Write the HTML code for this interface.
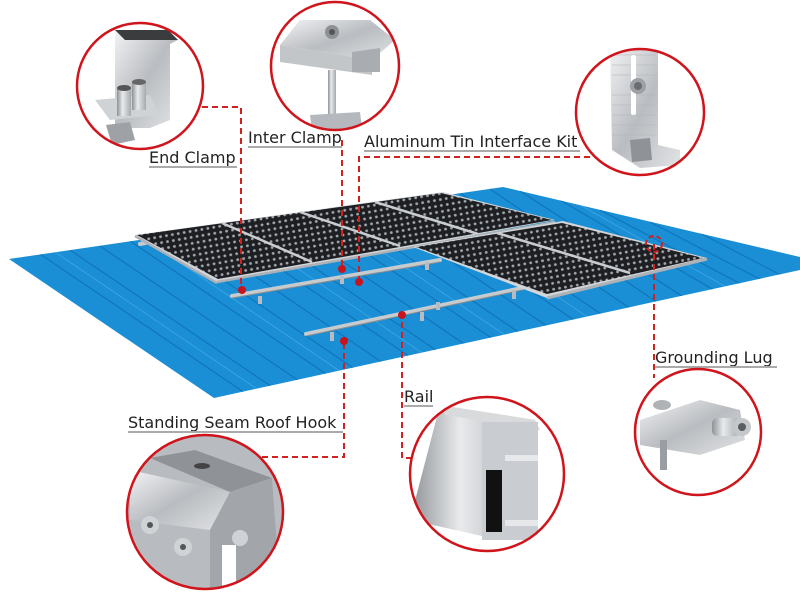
<!DOCTYPE html>
<html><head><meta charset="utf-8"><style>
html,body{margin:0;padding:0;background:#fff;width:800px;height:593px;overflow:hidden}
svg{display:block}
text{font-family:"DejaVu Sans","Liberation Sans",sans-serif;font-size:16px;fill:#222}
</style></head><body>
<svg width="800" height="593" viewBox="0 0 800 593" xmlns="http://www.w3.org/2000/svg">
<defs>
<pattern id="cells" width="6" height="6" patternUnits="userSpaceOnUse" patternTransform="rotate(-10)">
<rect width="6" height="6" fill="#1d1f22"/>
<circle cx="3" cy="3" r="1.4" fill="#a4a8ae"/>
</pattern>
<linearGradient id="metal" x1="0" y1="0" x2="1" y2="1">
<stop offset="0" stop-color="#f2f3f5"/><stop offset="0.5" stop-color="#b9bcc0"/><stop offset="1" stop-color="#e2e4e6"/>
</linearGradient>
<linearGradient id="metal2" x1="0" y1="0" x2="1" y2="0">
<stop offset="0" stop-color="#8e9296"/><stop offset="0.4" stop-color="#e8eaec"/><stop offset="1" stop-color="#a5a9ad"/>
</linearGradient>
<clipPath id="roofclip"><polygon points="9,259 503,187 800,257 800,270 214,398"/></clipPath>
</defs>

<polygon points="9,259 503,187 800,257 800,270 214,398" fill="#1a8fd6"/>
<g clip-path="url(#roofclip)" stroke="#0f6fb3" stroke-width="1.2" opacity="0.8">
<line x1="40" y1="254" x2="245" y2="393"/><line x1="70" y1="250" x2="275" y2="389"/>
<line x1="100" y1="246" x2="305" y2="385"/><line x1="130" y1="241" x2="335" y2="380"/>
<line x1="160" y1="237" x2="365" y2="376"/><line x1="190" y1="232" x2="395" y2="371"/>
<line x1="220" y1="228" x2="425" y2="367"/><line x1="250" y1="224" x2="455" y2="363"/>
<line x1="280" y1="219" x2="485" y2="358"/><line x1="310" y1="215" x2="515" y2="354"/>
<line x1="340" y1="211" x2="545" y2="350"/><line x1="370" y1="206" x2="575" y2="345"/>
<line x1="400" y1="202" x2="605" y2="341"/><line x1="430" y1="198" x2="635" y2="337"/>
<line x1="460" y1="193" x2="665" y2="332"/><line x1="490" y1="189" x2="695" y2="328"/>
<line x1="520" y1="191" x2="725" y2="324"/><line x1="560" y1="200" x2="765" y2="320"/>
<line x1="600" y1="210" x2="800" y2="315"/><line x1="650" y1="222" x2="800" y2="300"/>
<line x1="700" y1="233" x2="800" y2="285"/>
</g>
<g clip-path="url(#roofclip)" stroke="#5ab8ee" stroke-width="0.8" opacity="0.6">
<line x1="55" y1="252" x2="260" y2="391"/><line x1="145" y1="239" x2="350" y2="378"/>
<line x1="235" y1="226" x2="440" y2="365"/><line x1="325" y1="213" x2="530" y2="352"/>
<line x1="415" y1="200" x2="620" y2="339"/><line x1="580" y1="205" x2="785" y2="320"/>
</g>

<g stroke="#c8cbce" stroke-width="4" stroke-linecap="round">
<line x1="232" y1="296" x2="440" y2="260"/>
<line x1="306" y1="334" x2="522" y2="288"/>
<line x1="140" y1="244" x2="160" y2="240"/>
</g>
<g stroke="#8a8e92" stroke-width="1"><line x1="232" y1="298" x2="440" y2="262"/><line x1="306" y1="336" x2="522" y2="290"/></g>
<g fill="#b8bcc0">
<rect x="258" y="296" width="4" height="8"/><rect x="340" y="276" width="4" height="8"/>
<rect x="425" y="262" width="4" height="8"/><rect x="330" y="332" width="4" height="9"/>
<rect x="420" y="312" width="4" height="9"/><rect x="512" y="290" width="4" height="9"/>
<rect x="436" y="302" width="4" height="8"/>
</g>

<polygon points="135,235 443,192 555,220 217,283" fill="#d3d6d9"/>
<polygon points="137,235 441,193 552,220 218,279" fill="url(#cells)"/>
<g stroke="#c9ccd0" stroke-width="2.5">
<line x1="222" y1="223" x2="312" y2="262"/>
<line x1="300" y1="212" x2="400" y2="246"/>
<line x1="375" y1="202" x2="478" y2="234"/>
</g>
<line x1="217" y1="282" x2="555" y2="222" stroke="#aeb2b6" stroke-width="2.5"/>
<line x1="135" y1="236" x2="217" y2="283" stroke="#aeb2b6" stroke-width="2.5"/>

<polygon points="413,247 563,221 707,258 547,298" fill="#d3d6d9"/>
<polygon points="416,247 562,223 703,258 547,294" fill="url(#cells)"/>
<line x1="497" y1="233" x2="630" y2="273" stroke="#c9ccd0" stroke-width="2.5"/>
<line x1="547" y1="298" x2="707" y2="259" stroke="#aeb2b6" stroke-width="3"/>

<g stroke="#d41f1f" stroke-width="2" stroke-dasharray="6,4" fill="none">
<polyline points="202,107 241,107 241,290"/>
<line x1="342" y1="140" x2="342" y2="269"/>
<polyline points="590,157 359,157 359,282"/>
<polyline points="262,457 344,457 344,341"/>
<polyline points="412,458 402,458 402,315"/>
<line x1="654" y1="244" x2="654" y2="378"/>
<circle cx="654" cy="244" r="8" stroke-dasharray="5,3"/>
</g>
<g fill="#c8141c">
<circle cx="242" cy="290" r="4"/><circle cx="342" cy="269" r="4"/><circle cx="359" cy="282" r="4"/>
<circle cx="402" cy="315" r="4"/><circle cx="344" cy="341" r="4"/>
</g>

<g>
<text x="149" y="163">End Clamp</text><rect x="149" y="166" width="88" height="2" fill="#aaa"/>
<text x="248" y="143">Inter Clamp</text><rect x="248" y="146" width="94" height="2" fill="#aaa"/>
<text x="364" y="147">Aluminum Tin Interface Kit</text><rect x="364" y="150" width="216" height="2" fill="#aaa"/>
<text x="655" y="363">Grounding Lug</text><rect x="655" y="366" width="122" height="2" fill="#aaa"/>
<text x="404" y="402">Rail</text><rect x="404" y="405" width="29" height="2" fill="#aaa"/>
<text x="128" y="428">Standing Seam Roof Hook</text><rect x="128" y="431" width="215" height="2" fill="#aaa"/>
</g>

<g>
<clipPath id="c1"><ellipse cx="140" cy="86" rx="63" ry="63"/></clipPath>
<g clip-path="url(#c1)">
<polygon points="115,30 168,30 178,40 170,44 170,120 150,128 115,128" fill="url(#metal)"/>
<polygon points="115,30 168,30 178,40 125,40" fill="#3a3c3e"/>
<polygon points="95,100 150,95 160,115 110,120" fill="#d0d3d6"/>
<rect x="117" y="88" width="14" height="28" fill="url(#metal2)"/><ellipse cx="124" cy="88" rx="7" ry="3" fill="#555"/>
<rect x="132" y="82" width="14" height="28" fill="url(#metal2)"/><ellipse cx="139" cy="82" rx="7" ry="3" fill="#666"/>
<polygon points="106,125 130,122 135,140 112,145" fill="#9ea2a6"/>
</g>
<ellipse cx="140" cy="86" rx="63" ry="63" fill="none" stroke="#d0141c" stroke-width="2.5"/>
</g>
<g>
<clipPath id="c2"><ellipse cx="335" cy="66" rx="64" ry="64"/></clipPath>
<g clip-path="url(#c2)">
<polygon points="300,20 370,20 395,40 372,60 280,45" fill="url(#metal)"/>
<polygon points="280,45 372,60 372,75 280,62" fill="#c3c6c9"/>
<polygon points="352,52 380,48 380,72 352,72" fill="#a9adb1"/>
<circle cx="332" cy="32" r="7" fill="#8d9195"/><circle cx="332" cy="32" r="3" fill="#555"/>
<rect x="328" y="70" width="8" height="52" fill="url(#metal2)"/>
<polygon points="310,115 360,112 362,128 312,130" fill="#b5b9bd"/>
</g>
<ellipse cx="335" cy="66" rx="64" ry="64" fill="none" stroke="#d0141c" stroke-width="2.5"/>
</g>
<g>
<clipPath id="c3"><ellipse cx="640" cy="112" rx="64" ry="63"/></clipPath>
<g clip-path="url(#c3)">
<polygon points="610,45 658,45 658,145 680,150 680,165 640,168 612,150" fill="url(#metal)"/>
<g stroke="#b0b4b8" stroke-width="0.6">
<line x1="612" y1="55" x2="656" y2="55"/><line x1="612" y1="65" x2="656" y2="65"/><line x1="612" y1="75" x2="656" y2="75"/>
<line x1="612" y1="95" x2="656" y2="95"/><line x1="612" y1="105" x2="656" y2="105"/><line x1="612" y1="115" x2="656" y2="115"/>
<line x1="612" y1="125" x2="656" y2="125"/><line x1="612" y1="135" x2="656" y2="135"/>
</g>
<rect x="631" y="55" width="5" height="60" rx="2" fill="#fff"/>
<circle cx="638" cy="86" r="8" fill="#9da1a5"/><circle cx="638" cy="86" r="4" fill="#6a6e72"/>
<polygon points="630,140 650,138 652,160 632,162" fill="#8f9397"/>
</g>
<ellipse cx="640" cy="112" rx="64" ry="63" fill="none" stroke="#d0141c" stroke-width="2.5"/>
</g>
<g>
<clipPath id="c4"><ellipse cx="698" cy="432" rx="63" ry="63"/></clipPath>
<g clip-path="url(#c4)">
<polygon points="640,420 700,400 740,410 745,440 700,455 640,445" fill="url(#metal)"/>
<rect x="712" y="418" width="28" height="18" rx="5" fill="url(#metal2)"/>
<circle cx="742" cy="427" r="9" fill="#c5c8cb"/><circle cx="742" cy="427" r="4" fill="#5a5e62"/>
<ellipse cx="662" cy="405" rx="9" ry="5" fill="#b0b3b6"/>
<rect x="660" y="440" width="7" height="30" fill="#9a9ea2"/>
</g>
<ellipse cx="698" cy="432" rx="63" ry="63" fill="none" stroke="#d0141c" stroke-width="2.5"/>
</g>
<g>
<clipPath id="c5"><ellipse cx="487" cy="474" rx="77" ry="77"/></clipPath>
<g clip-path="url(#c5)">
<polygon points="440,405 535,420 500,540 410,520" fill="url(#metal2)"/>
<polygon points="440,405 535,420 540,430 445,415" fill="#d8dadc"/>
<rect x="482" y="422" width="56" height="118" fill="#c9ccd0"/>
<rect x="486" y="470" width="16" height="62" fill="#111"/>
<rect x="505" y="455" width="33" height="6" fill="#e6e8ea"/>
<rect x="505" y="520" width="33" height="6" fill="#e6e8ea"/>
</g>
<ellipse cx="487" cy="474" rx="77" ry="77" fill="none" stroke="#d0141c" stroke-width="2.5"/>
</g>
<g>
<clipPath id="c6"><ellipse cx="205" cy="512" rx="78" ry="77"/></clipPath>
<g clip-path="url(#c6)">
<rect x="120" y="430" width="170" height="170" fill="#b8bbbf"/>
<polygon points="150,458 195,450 272,478 230,492" fill="#8f9397"/>
<polygon points="130,470 230,492 210,530 130,520" fill="url(#metal)"/>
<polygon points="230,492 272,478 280,590 210,590 210,530" fill="#a2a6aa"/>
<ellipse cx="202" cy="466" rx="8" ry="3" fill="#444"/>
<circle cx="150" cy="525" r="9" fill="#d0d3d6"/><circle cx="150" cy="525" r="3" fill="#555"/>
<circle cx="183" cy="547" r="9" fill="#d0d3d6"/><circle cx="183" cy="547" r="3" fill="#555"/>
<circle cx="240" cy="538" r="8" fill="#d0d3d6"/>
<rect x="222" y="545" width="14" height="50" fill="#fff"/>
</g>
<ellipse cx="205" cy="512" rx="78" ry="77" fill="none" stroke="#d0141c" stroke-width="2.5"/>
</g>
</svg>
</body></html>
